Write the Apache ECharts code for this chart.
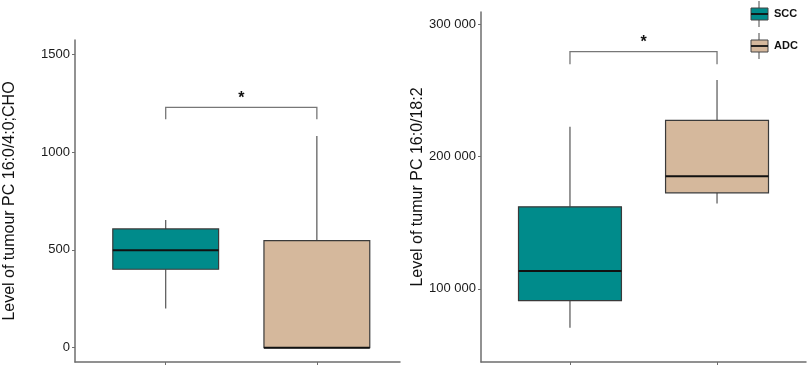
<!DOCTYPE html>
<html>
<head>
<meta charset="utf-8">
<script src="https://cdn.jsdelivr.net/npm/echarts@6/dist/echarts.min.js"></script>
<style>
  html, body { margin: 0; padding: 0; background: #fff; }
  #chart { width: 809px; height: 366px; }
</style>
</head>
<body>
<div id="chart"></div>
<script>
// groups
const groups = ['SCC', 'ADC']
const groupColors = ['#008b8b', '#d5b89c']

// box stats per group: [x, min, q1, median, q3, max]
const leftBoxes = [
  [1, 201, 401, 498, 607, 653],
  [2, 0, 0, 0, 547, 1082]
]
const rightBoxes = [
  [1, 70700, 91200, 113500, 161900, 222400],
  [2, 164500, 172500, 185100, 227200, 257700]
]

// significance brackets: [x1, x2, top, legBottom, label]
const leftSig = [[1, 2, 1229, 1168, '*']]
const rightSig = [[1, 2, 279100, 269500, '*']]

// tick labels
const leftTicks = [0, 500, 1000, 1500]
const rightTicks = [100000, 200000, 300000]

const leftTitle = 'Level of tumour PC 16:0/4:0;CHO'
const rightTitle = 'Level of tumur PC 16:0/18:2'

const chart = echarts.init(document.getElementById('chart'))

const axisGray = '#6e6e6e'
const font = 'Arial, "Liberation Sans", sans-serif'

function renderBox(params, api) {
  const x = api.value(0)
  const half = 0.35
  const pMin = api.coord([x, api.value(1)])
  const pQ1 = api.coord([x, api.value(2)])
  const pMed = api.coord([x, api.value(3)])
  const pQ3 = api.coord([x, api.value(4)])
  const pMax = api.coord([x, api.value(5)])
  const l = api.coord([x - half, 0])[0]
  const r = api.coord([x + half, 0])[0]
  const color = groupColors[params.dataIndex]
  const children = []
  if (pMax[1] < pQ3[1] - 0.5) {
    children.push({ type: 'line', shape: { x1: pMax[0], y1: pMax[1], x2: pQ3[0], y2: pQ3[1] }, style: { stroke: '#555', lineWidth: 1.2 } })
  }
  if (pMin[1] > pQ1[1] + 0.5) {
    children.push({ type: 'line', shape: { x1: pQ1[0], y1: pQ1[1], x2: pMin[0], y2: pMin[1] }, style: { stroke: '#555', lineWidth: 1.2 } })
  }
  children.push({
    type: 'rect',
    shape: { x: l, y: pQ3[1], width: r - l, height: pQ1[1] - pQ3[1] },
    style: { fill: color, stroke: '#3a3a3a', lineWidth: 1.2 }
  })
  children.push({ type: 'line', shape: { x1: l, y1: pMed[1], x2: r, y2: pMed[1] }, style: { stroke: '#111', lineWidth: 2 } })
  return { type: 'group', children }
}

function renderSig(params, api) {
  const a = api.coord([api.value(0), api.value(2)])
  const b = api.coord([api.value(1), api.value(2)])
  const la = api.coord([api.value(0), api.value(3)])
  const lb = api.coord([api.value(1), api.value(3)])
  const style = { stroke: '#777', lineWidth: 1.3, fill: null }
  return {
    type: 'group',
    children: [
      { type: 'polyline', shape: { points: [la, a, b, lb] }, style },
      {
        type: 'text',
        style: {
          x: (a[0] + b[0]) / 2, y: a[1] - 1, text: api.value(4),
          fill: '#111', font: 'bold 16px ' + font, align: 'center', verticalAlign: 'bottom'
        }
      }
    ]
  }
}

function yAxisFor(gridIndex, min, max, ticks, title, fmt, nameGap) {
  return {
    type: 'value', gridIndex, min, max,
    name: title, nameLocation: 'middle', nameGap,
    nameTextStyle: { fontSize: 16, color: '#111', fontFamily: font },
    splitLine: { show: false },
    axisLine: { show: true, lineStyle: { color: axisGray, width: 1.5 } },
    axisTick: { show: true, length: 3, customValues: ticks, lineStyle: { color: axisGray } },
    axisLabel: { customValues: ticks, formatter: fmt, fontSize: 13, color: '#1a1a1a', fontFamily: font, margin: 5 }
  }
}

function xAxisFor(gridIndex, min, max) {
  return {
    type: 'value', gridIndex, min, max,
    splitLine: { show: false },
    axisLine: { show: true, onZero: false, lineStyle: { color: axisGray, width: 1.5 } },
    axisTick: { show: true, length: 3, customValues: [1, 2], lineStyle: { color: axisGray } },
    axisLabel: { show: false }
  }
}

const spaceFmt = v => String(v).replace(/\B(?=(\d{3})+(?!\d))/g, ' ')

function legendItem(i, top) {
  const cx = 759
  return {
    type: 'group',
    children: [
      { type: 'line', shape: { x1: cx, y1: top - 7, x2: cx, y2: top + 19 }, style: { stroke: '#666', lineWidth: 1.2 } },
      { type: 'rect', shape: { x: 751, y: top, width: 17, height: 12 }, style: { fill: groupColors[i], stroke: '#444', lineWidth: 1 } },
      { type: 'line', shape: { x1: 751, y1: top + 6, x2: 768, y2: top + 6 }, style: { stroke: '#111', lineWidth: 1.8 } },
      { type: 'text', style: { x: 774, y: top + 6, text: groups[i], font: 'bold 11px ' + font, fill: '#111', verticalAlign: 'middle' } }
    ]
  }
}

chart.setOption({
  animation: false,
  grid: [
    { left: 75, top: 40, width: 325, height: 322 },
    { left: 481, top: 12, width: 325, height: 350 }
  ],
  xAxis: [xAxisFor(0, 0.4, 2.55), xAxisFor(1, 0.395, 2.605)],
  yAxis: [
    yAxisFor(0, -73, 1573, leftTicks, leftTitle, v => String(v), 57),
    yAxisFor(1, 44800, 309000, rightTicks, rightTitle, spaceFmt, 55)
  ],
  series: [
    { type: 'custom', xAxisIndex: 0, yAxisIndex: 0, data: leftBoxes, renderItem: renderBox, clip: false },
    { type: 'custom', xAxisIndex: 1, yAxisIndex: 1, data: rightBoxes, renderItem: renderBox, clip: false },
    { type: 'custom', xAxisIndex: 0, yAxisIndex: 0, data: leftSig, renderItem: renderSig, clip: false },
    { type: 'custom', xAxisIndex: 1, yAxisIndex: 1, data: rightSig, renderItem: renderSig, clip: false }
  ],
  graphic: [legendItem(0, 8), legendItem(1, 40)]
})
</script>
</body>
</html>
